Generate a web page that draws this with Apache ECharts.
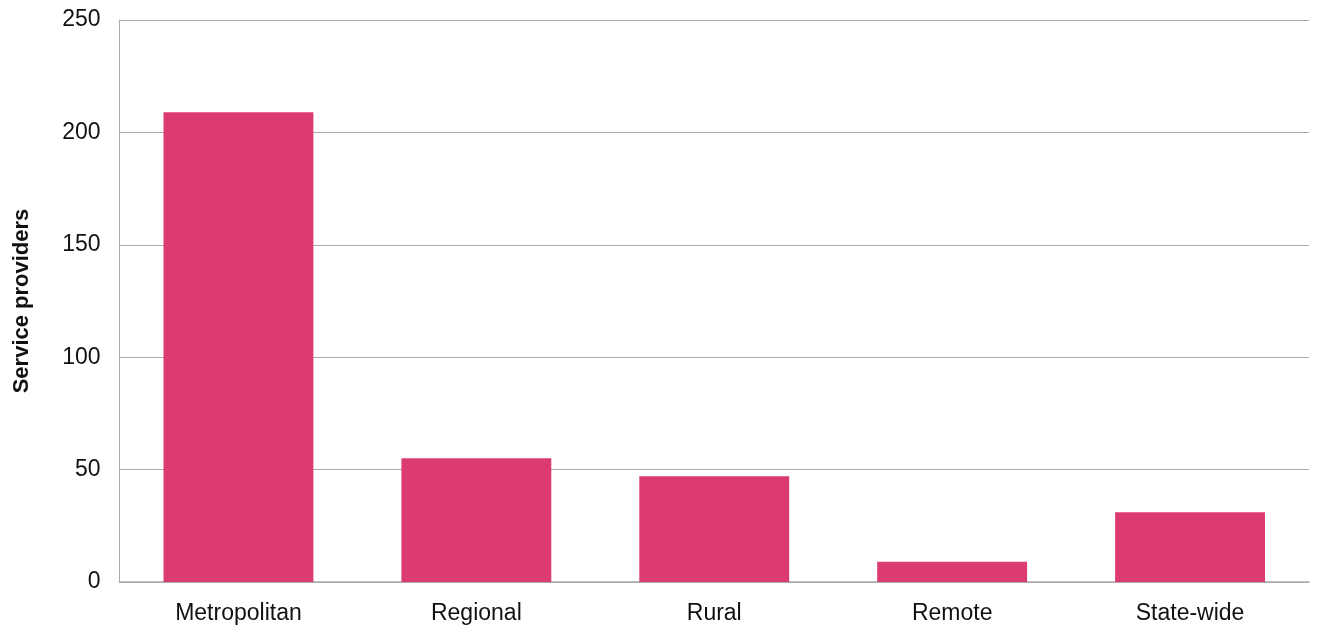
<!DOCTYPE html>
<html>
<head>
<meta charset="utf-8">
<script src="https://cdn.jsdelivr.net/npm/echarts@6/dist/echarts.min.js"></script>
<style>
  html, body { margin: 0; padding: 0; background: #fff; }
  #chart { width: 1317px; height: 632px; }
</style>
</head>
<body>
<div id="chart"></div>
<script>
// Service providers by area type
const categories = ['Metropolitan', 'Regional', 'Rural', 'Remote', 'State-wide'];
const providers = [209, 55, 47, 9, 31];
const yTicks = { min: 0, max: 250, interval: 50 };

const chart = echarts.init(document.getElementById('chart'));
const font = '"Liberation Sans", Arial, Helvetica, sans-serif';

chart.setOption({
  animation: false,
  textStyle: { fontFamily: font },
  grid: { left: 119.5, right: 8, top: 20, bottom: 50, outerBoundsMode: 'none', containLabel: false },
  xAxis: {
    type: 'category',
    data: categories,
    axisLine: { show: true, lineStyle: { color: '#aaaaaa', width: 1.5 } },
    axisTick: { show: false },
    axisLabel: { color: '#111', fontSize: 23, margin: 20, fontFamily: font }
  },
  yAxis: {
    type: 'value',
    min: yTicks.min,
    max: yTicks.max,
    interval: yTicks.interval,
    name: 'Service providers',
    nameLocation: 'middle',
    nameGap: 87,
    nameTextStyle: { color: '#111', fontSize: 22, fontWeight: 'bold', fontFamily: font },
    axisLine: { show: true, lineStyle: { color: '#aaaaaa', width: 1 } },
    axisTick: { show: false },
    axisLabel: { color: '#111', fontSize: 23, margin: 19, fontFamily: font, padding: [4, 0, 0, 0] },
    splitLine: { show: true, lineStyle: { color: '#aaaaaa', width: 1 } }
  },
  series: [{
    type: 'bar',
    data: providers,
    barWidth: '63%',
    itemStyle: { color: '#dc3a72' }
  }]
});
</script>
</body>
</html>
